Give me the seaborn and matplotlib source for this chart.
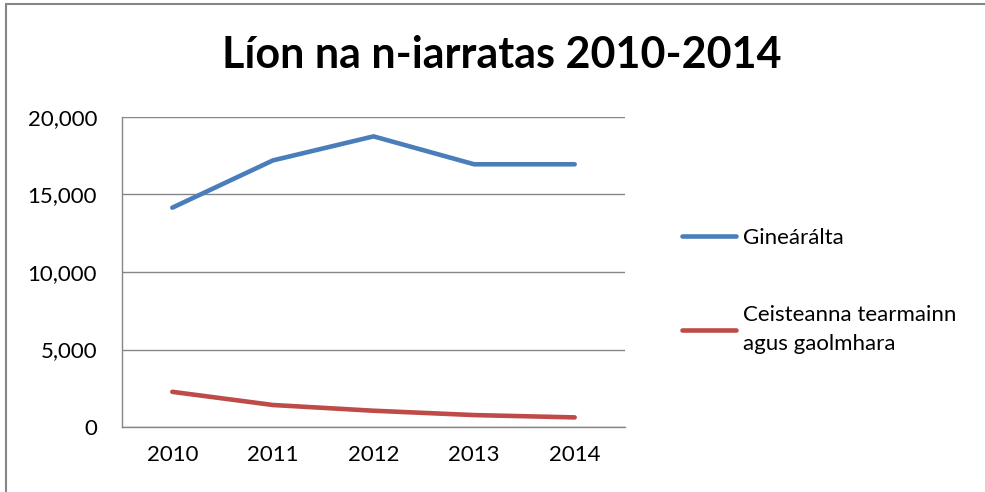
import numpy as np
import pandas as pd
import matplotlib.pyplot as plt
import matplotlib.lines as mlines
import seaborn as sns

years = ["2010", "2011", "2012", "2013", "2014"]
ginearalta = [14150, 17200, 18750, 16950, 16950]
ceisteanna = [2270, 1420, 1050, 770, 620]
series_names = ["Gineárálta", "Ceisteanna tearmainn\nagus gaolmhara"]
colors = ["#4A7EBB", "#BE4B48"]

df = pd.DataFrame({
    "year": years * 2,
    "value": ginearalta + ceisteanna,
    "series": [series_names[0]] * 5 + [series_names[1]] * 5,
})

sns.set_style("white")
plt.rcParams['font.family'] = ['Lato', 'DejaVu Sans']
plt.rcParams['text.color'] = 'black'
plt.rcParams['xtick.color'] = 'black'
plt.rcParams['ytick.color'] = 'black'

fig = plt.figure(figsize=(9.85, 4.92), dpi=100)
ax = fig.add_axes([0.1239, 0.1321, 0.5106, 0.6301])

sns.lineplot(data=df, x="year", y="value", hue="series", palette=colors,
             linewidth=3.3, ax=ax, sort=False, solid_capstyle="round")

ax.set_xlim(-0.5, 4.5)
ax.set_ylim(0, 20000)
ax.set_yticks([0, 5000, 10000, 15000, 20000])
ax.set_yticklabels([f"{v:,}" for v in [0, 5000, 10000, 15000, 20000]])
ax.set_xticks(range(5))
ax.set_xticks(np.arange(-0.5, 5, 1), minor=True)
ax.tick_params(axis="x", which="major", length=0, pad=13, labelsize=16)
ax.tick_params(axis="x", which="minor", length=7, color="#868686", width=1, direction="out")
ax.tick_params(axis="y", length=7, color="#868686", width=1, direction="out", labelsize=16, pad=11)
ax.yaxis.grid(True, color="#868686", linewidth=1)
ax.set_axisbelow(True)
for s in ["top", "right"]:
    ax.spines[s].set_visible(False)
for s in ["left", "bottom"]:
    ax.spines[s].set_color("#868686")
    ax.spines[s].set_linewidth(1)
ax.set_xlabel("")
ax.set_ylabel("")

fig.text(0.509, 0.888, "Líon na n-iarratas 2010-2014", ha="center", va="center",
         fontsize=31, fontweight="bold")

handles, labels = ax.get_legend_handles_labels()
leg = ax.legend(handles, labels, loc="upper left", bbox_to_anchor=(0.672, 0.578),
                bbox_transform=fig.transFigure, frameon=False, fontsize=16,
                handlelength=2.45, handletextpad=0.3, labelspacing=2.6)
for t in leg.get_texts():
    t.set_linespacing(1.55)

fig.add_artist(mlines.Line2D([0.006, 1.0], [0.991, 0.991], transform=fig.transFigure,
                             color="#868686", linewidth=1.5))
fig.add_artist(mlines.Line2D([0.006, 0.006], [0.0, 0.991], transform=fig.transFigure,
                             color="#868686", linewidth=1.5))

fig.savefig("out.png", dpi=100)
